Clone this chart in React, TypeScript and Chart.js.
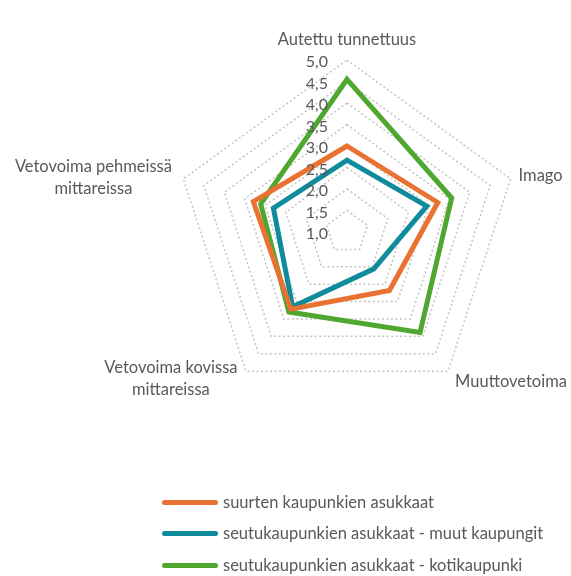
import React, { useEffect, useRef } from "react";
import { Chart, registerables } from "chart.js";

Chart.register(...registerables);

if (typeof document !== "undefined") {
  document.body.style.margin = "0";
  document.documentElement.style.overflow = "hidden";
}

const categories: (string | string[])[] = [
  "Autettu tunnettuus",
  "Imago",
  "Muuttovetoima",
  ["Vetovoima kovissa", "mittareissa"],
  ["Vetovoima pehmeissä", "mittareissa"],
];
const seriesNames = [
  "suurten kaupunkien asukkaat",
  "seutukaupunkien asukkaat - muut kaupungit",
  "seutukaupunkien asukkaat - kotikaupunki",
];
const suurten = [3.0, 3.22, 2.68, 3.22, 3.29];
const muut = [2.67, 2.95, 2.06, 3.15, 2.8];
const koti = [4.55, 3.56, 3.89, 3.3, 3.11];
const colors = ["#E97132", "#0F8B9B", "#4EA72E"];
const tickLabels = ["1,0", "1,5", "2,0", "2,5", "3,0", "3,5", "4,0", "4,5", "5,0"];

// label anchor offsets from the outer vertex of each axis (dx, dy, align)
const labelOffsets: [number, number, CanvasTextAlign][] = [
  [0, -15, "center"],
  [8, 2, "left"],
  [7, 16, "left"],
  [-75, 2, "center"],
  [-90, -7, "center"],
];

const FONT = "Lato, 'Open Sans', sans-serif";
const TEXT = "#595959";

const customText = {
  id: "customText",
  afterDraw(chart: any) {
    const scale = chart.scales.r;
    const ctx = chart.ctx;
    ctx.save();
    ctx.fillStyle = TEXT;
    // tick labels
    ctx.font = `16px ${FONT}`;
    ctx.textAlign = "right";
    ctx.textBaseline = "middle";
    const ticks = scale.ticks;
    ticks.forEach((t: any, i: number) => {
      const d = scale.getDistanceFromCenterForValue(t.value);
      ctx.fillText(tickLabels[i] ?? String(t.value), scale.xCenter - 19, scale.yCenter - d + 2);
    });
    // point labels
    ctx.font = `16.5px ${FONT}`;
    ctx.textBaseline = "alphabetic";
    categories.forEach((lab, i) => {
      const p = scale.getPointPositionForValue(i, scale.max);
      const [dx, dy, align] = labelOffsets[i];
      ctx.textAlign = align;
      const lines = Array.isArray(lab) ? lab : [lab];
      lines.forEach((ln, j) => {
        ctx.fillText(ln, p.x + dx, p.y + dy + j * 22);
      });
    });
    ctx.restore();
  },
};

export default function App() {
  const ref = useRef<HTMLCanvasElement | null>(null);
  useEffect(() => {
    if (!ref.current) return;
    const data = [suurten, muut, koti];
    const chart = new Chart(ref.current, {
      type: "radar",
      data: {
        labels: categories as any,
        datasets: seriesNames.map((name, i) => ({
          label: name,
          data: data[i],
          borderColor: colors[i],
          backgroundColor: colors[i],
          borderWidth: 5,
          pointRadius: 0,
          pointHoverRadius: 0,
          fill: false,
          tension: 0,
        })),
      },
      options: {
        animation: false,
        responsive: true,
        maintainAspectRatio: false,
        layout: { padding: { left: 167, right: 52, top: 52, bottom: 164 } },
        plugins: { legend: { display: false }, tooltip: { enabled: false } },
        scales: {
          r: {
            min: 1,
            max: 5,
            ticks: { display: false, stepSize: 0.5 },
            pointLabels: { display: false },
            angleLines: { display: false },
            grid: { color: "#c4c4c4", lineWidth: 1.5 },
            border: { dash: [2, 2.5] },
          } as any,
        },
      },
      plugins: [customText],
    });
    return () => chart.destroy();
  }, []);

  const rowCenters = [502, 533, 565];

  return (
    <div
      style={{
        position: "relative",
        width: 571,
        height: 576,
        overflow: "hidden",
      }}
    >
      <div style={{ position: "absolute", left: 8, top: 8, width: 563, height: 560 }}>
        <canvas ref={ref} />
      </div>
      {seriesNames.map((n, i) => (
        <div
          key={n}
          style={{
            position: "absolute",
            left: 162,
            top: rowCenters[i] - 10,
            height: 20,
            display: "flex",
            alignItems: "center",
            whiteSpace: "nowrap",
            fontFamily: FONT,
            fontSize: 16.5,
            lineHeight: "20px",
            color: TEXT,
          }}
        >
          <span
            style={{
              display: "inline-block",
              width: 56,
              height: 5,
              borderRadius: 3,
              background: colors[i],
              marginRight: 5,
            }}
          />
          <span>{n}</span>
        </div>
      ))}
    </div>
  );
}
